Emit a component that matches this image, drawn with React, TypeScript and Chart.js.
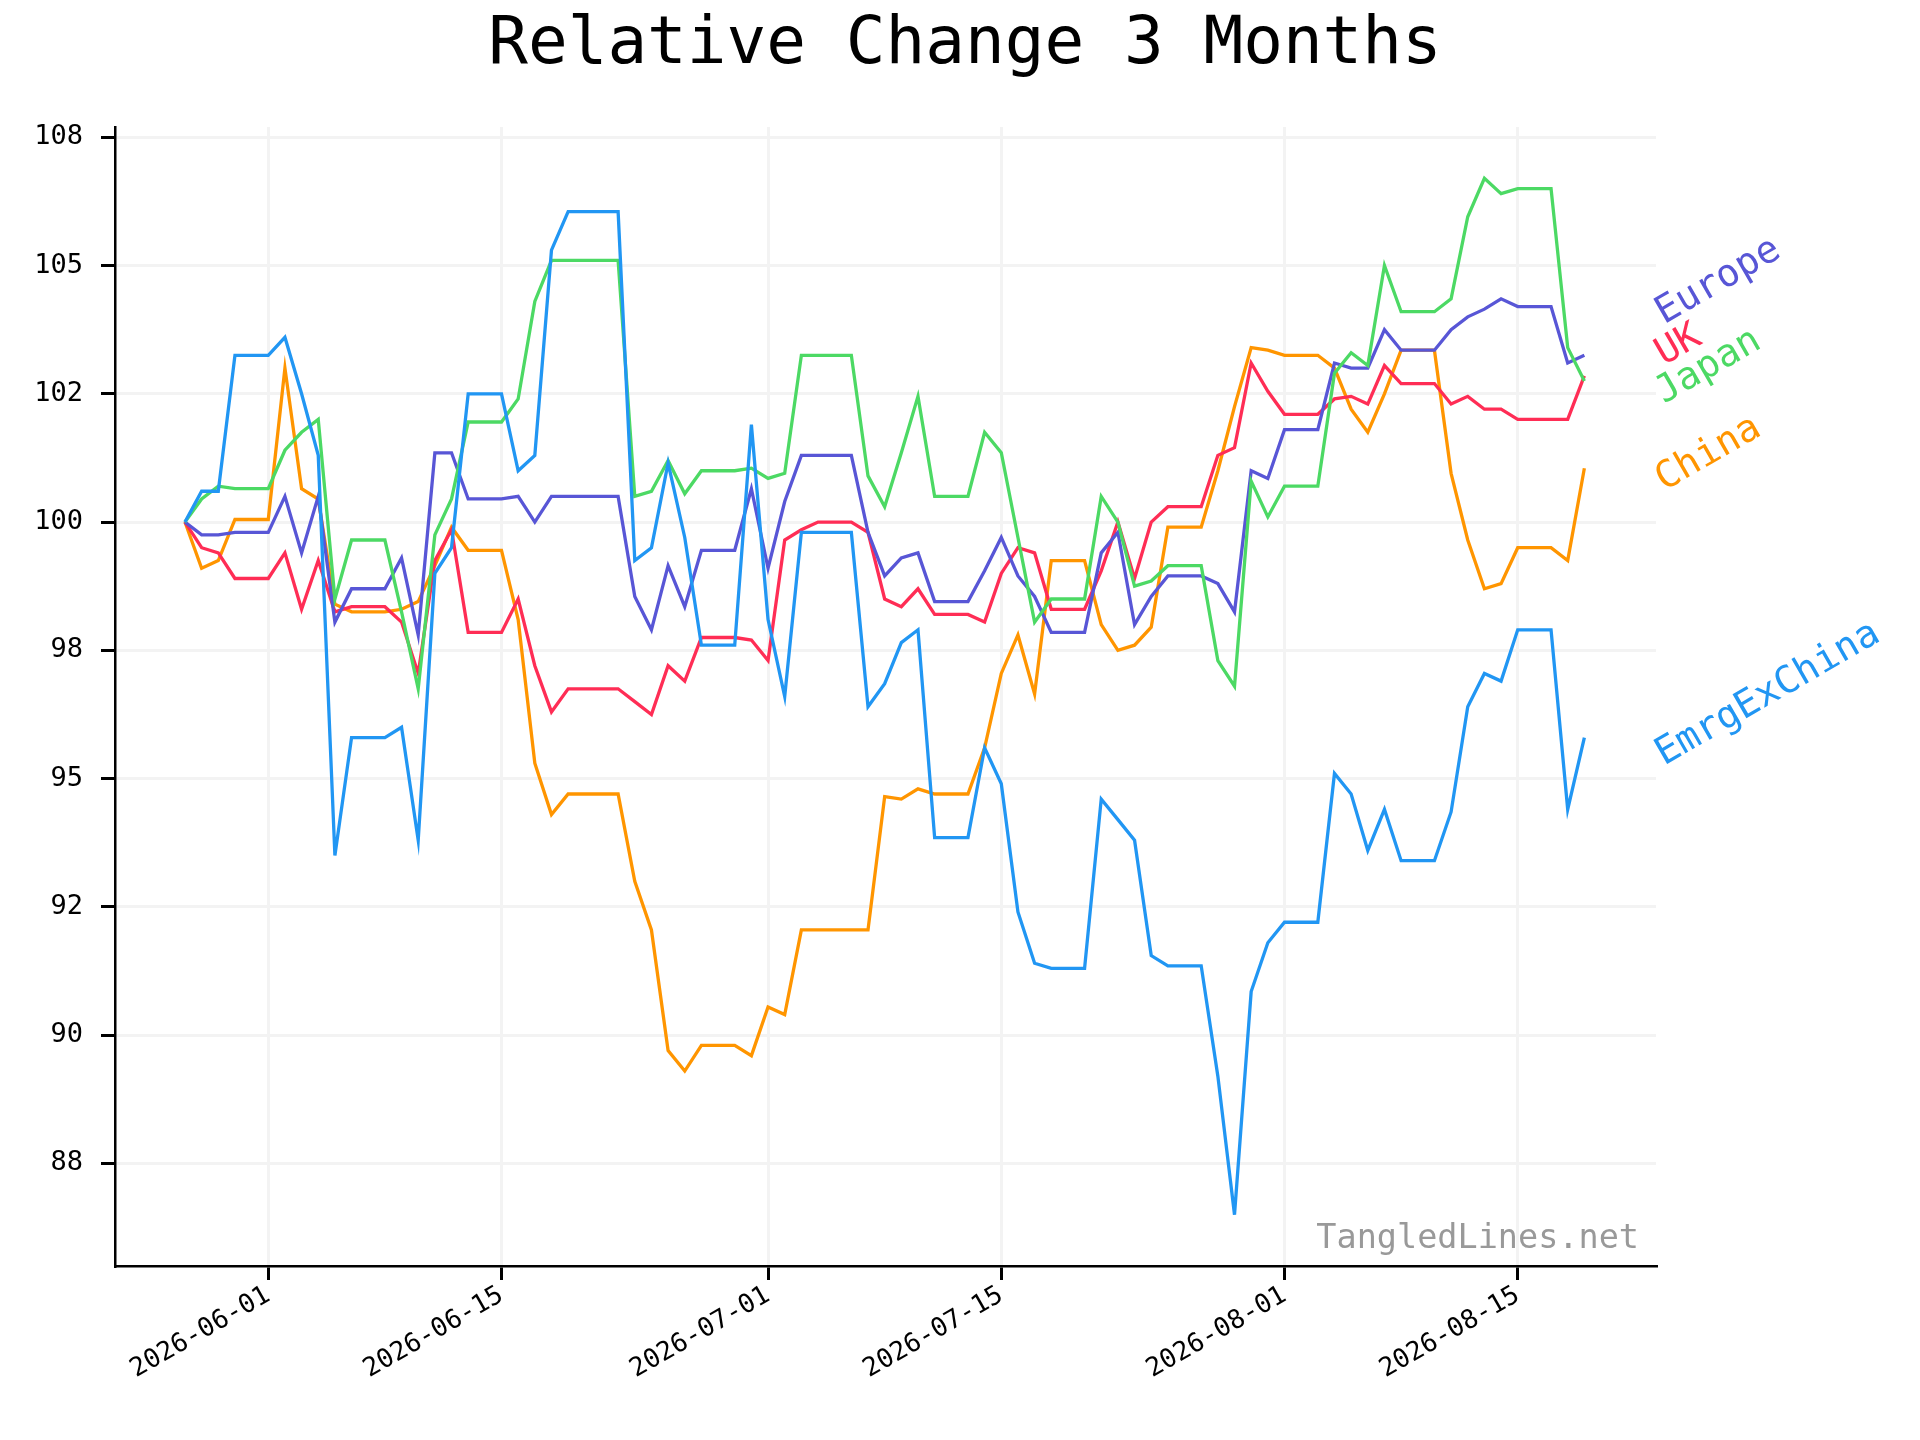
import React, { useEffect, useRef } from "react";
import { Chart, registerables } from "chart.js";
Chart.register(...registerables);

const startDate = Date.UTC(2026, 4, 27);
const tickDates = ["2026-06-01", "2026-06-15", "2026-07-01", "2026-07-15", "2026-08-01", "2026-08-15"];
const yTicks = [87.5, 90, 92.5, 95, 97.5, 100, 102.5, 105, 107.5];

const seriesNames = ["EmrgExChina", "Japan", "Europe", "UK", "China"];
const seriesColors = ["#2196F3", "#4CD964", "#5856D6", "#FF2D55", "#FF9500"];
const labelValues = [95.25, 102.3, 103.85, 103.05, 100.6];

const emrgExChina = [100,100.6,100.6,103.25,103.25,103.25,103.6,102.5,101.3,93.5,95.8,95.8,95.8,96.0,93.8,99.0,99.5,102.5,102.5,102.5,101.0,101.3,105.3,106.05,106.05,106.05,106.05,99.25,99.5,101.15,99.7,97.6,97.6,97.6,101.9,98.1,96.6,99.8,99.8,99.8,99.8,96.4,96.85,97.65,97.9,93.85,93.85,93.85,95.6,94.9,92.4,91.4,91.3,91.3,91.3,94.6,94.2,93.8,91.55,91.35,91.35,91.35,89.2,86.5,90.85,91.8,92.2,92.2,92.2,95.1,94.7,93.6,94.4,93.4,93.4,93.4,94.35,96.4,97.05,96.9,97.9,97.9,97.9,94.4,95.8];
const japan = [100,100.45,100.7,100.65,100.65,100.65,101.4,101.75,102.0,98.5,99.65,99.65,99.65,98.25,96.75,99.75,100.45,101.95,101.95,101.95,102.4,104.3,105.1,105.1,105.1,105.1,105.1,100.5,100.6,101.2,100.55,101.0,101.0,101.0,101.05,100.85,100.95,103.25,103.25,103.25,103.25,100.9,100.3,101.35,102.45,100.5,100.5,100.5,101.75,101.35,99.7,98.05,98.5,98.5,98.5,100.5,100.0,98.75,98.85,99.15,99.15,99.15,97.3,96.8,100.8,100.1,100.7,100.7,100.7,102.9,103.3,103.05,105.0,104.1,104.1,104.1,104.35,105.95,106.7,106.4,106.5,106.5,106.5,103.4,102.75];
const europe = [100,99.75,99.75,99.8,99.8,99.8,100.5,99.4,100.5,98.05,98.7,98.7,98.7,99.3,97.8,101.35,101.35,100.45,100.45,100.45,100.5,100.0,100.5,100.5,100.5,100.5,100.5,98.55,97.9,99.15,98.35,99.45,99.45,99.45,100.65,99.1,100.4,101.3,101.3,101.3,101.3,99.8,98.95,99.3,99.4,98.45,98.45,98.45,99.05,99.7,98.95,98.55,97.85,97.85,97.85,99.4,99.8,98.0,98.55,98.95,98.95,98.95,98.8,98.25,101.0,100.85,101.8,101.8,101.8,103.1,103.0,103.0,103.75,103.35,103.35,103.35,103.75,104.0,104.15,104.35,104.2,104.2,104.2,103.1,103.25];
const uk = [100,99.5,99.4,98.9,98.9,98.9,99.4,98.3,99.25,98.25,98.35,98.35,98.35,98.05,97.05,99.25,99.85,97.85,97.85,97.85,98.5,97.2,96.3,96.75,96.75,96.75,96.75,96.5,96.25,97.2,96.9,97.75,97.75,97.75,97.7,97.3,99.65,99.85,100,100,100,99.8,98.5,98.35,98.7,98.2,98.2,98.2,98.05,99.0,99.5,99.4,98.3,98.3,98.3,99.05,100.0,98.9,100.0,100.3,100.3,100.3,101.3,101.45,103.1,102.55,102.1,102.1,102.1,102.4,102.45,102.3,103.05,102.7,102.7,102.7,102.3,102.45,102.2,102.2,102.0,102.0,102.0,102.0,102.85];
const china = [100,99.1,99.25,100.05,100.05,100.05,103.0,100.65,100.45,98.4,98.25,98.25,98.25,98.3,98.45,99.15,99.9,99.45,99.45,99.45,98.1,95.3,94.3,94.7,94.7,94.7,94.7,93.0,92.05,89.7,89.3,89.8,89.8,89.8,89.6,90.55,90.4,92.05,92.05,92.05,92.05,92.05,94.65,94.6,94.8,94.7,94.7,94.7,95.6,97.05,97.8,96.65,99.25,99.25,99.25,98.0,97.5,97.6,97.95,99.9,99.9,99.9,101.0,102.25,103.4,103.35,103.25,103.25,103.25,103.0,102.2,101.75,102.5,103.35,103.35,103.35,100.95,99.65,98.7,98.8,99.5,99.5,99.5,99.25,101.05];

const seriesValues = [emrgExChina, japan, europe, uk, china];
const FONT = "'DejaVu Sans Mono', monospace";

function dayIndex(d: string) {
  const [y, m, dd] = d.split("-").map(Number);
  return (Date.UTC(y, m - 1, dd) - startDate) / 86400000;
}
function roundHalfEven(v: number) {
  const f = Math.floor(v);
  const diff = v - f;
  if (Math.abs(diff - 0.5) < 1e-9) return f % 2 === 0 ? f : f + 1;
  return Math.round(v);
}

export default function App() {
  const ref = useRef<HTMLCanvasElement>(null);
  useEffect(() => {
    const datasets = seriesNames.map((n, k) => ({
      label: n,
      data: seriesValues[k].map((v, i) => ({ x: i, y: v })),
      borderColor: seriesColors[k],
      borderWidth: 3.3,
      pointRadius: 0,
      fill: false,
      tension: 0,
    }));
    const textPlugin = {
      id: "texts",
      afterDraw(chart: any) {
        const ctx = chart.ctx;
        const ys = chart.scales.y;
        const area = chart.chartArea;
        ctx.save();
        ctx.fillStyle = "#000";
        ctx.font = `66px ${FONT}`;
        ctx.textAlign = "center";
        ctx.textBaseline = "middle";
        ctx.fillText("Relative Change 3 Months", 965, 46);
        ctx.font = `33.5px ${FONT}`;
        ctx.fillStyle = "#999";
        ctx.textAlign = "right";
        ctx.textBaseline = "alphabetic";
        ctx.fillText("TangledLines.net", area.right - 17, area.bottom - 18);
        ctx.font = `38px ${FONT}`;
        ctx.textAlign = "left";
        seriesNames.forEach((n, k) => {
          ctx.save();
          ctx.translate(area.right + 8, ys.getPixelForValue(labelValues[k]));
          ctx.rotate(-Math.PI / 6);
          ctx.fillStyle = seriesColors[k];
          ctx.fillText(n, 0, 0);
          ctx.restore();
        });
        ctx.restore();
      },
    };
    const chart = new Chart(ref.current!, {
      type: "line",
      data: { datasets },
      options: {
        animation: false,
        responsive: false,
        layout: { padding: { top: 127, right: 264, left: 0, bottom: 0 } },
        plugins: { legend: { display: false }, tooltip: { enabled: false }, title: { display: false } },
        scales: {
          x: {
            type: "linear",
            min: -4.2,
            max: 88.3,
            afterFit: (s: any) => { s.height = 174; },
            afterBuildTicks: (s: any) => { s.ticks = tickDates.map((d) => ({ value: dayIndex(d) })); },
            ticks: {
              autoSkip: false,
              minRotation: 30,
              maxRotation: 30,
              padding: 0,
              color: "#000",
              font: { family: FONT, size: 26 },
              callback: (v: any) => tickDates.find((d) => dayIndex(d) === v) || "",
            },
            grid: { color: "#f3f3f3", lineWidth: 3, tickColor: "#000", tickLength: 14, tickWidth: 3 },
            border: { color: "#000", width: 2.5 },
          },
          y: {
            min: 85.5,
            max: 107.7,
            afterFit: (s: any) => { s.width = 115; },
            afterBuildTicks: (s: any) => { s.ticks = yTicks.map((v) => ({ value: v })); },
            ticks: {
              padding: 18,
              color: "#000",
              font: { family: FONT, size: 27 },
              callback: (v: any) => String(roundHalfEven(Number(v))),
            },
            grid: { color: "#f3f3f3", lineWidth: 3, tickColor: "#000", tickLength: 14, tickWidth: 3 },
            border: { color: "#000", width: 2.5 },
          },
        },
      },
      plugins: [textPlugin],
    });
    return () => chart.destroy();
  }, []);
  return (
    <div style={{ position: "fixed", left: 0, top: 0, width: 1920, height: 1440, background: "#fff" }}>
      <canvas ref={ref} width={1920} height={1440} style={{ width: 1920, height: 1440 }} />
    </div>
  );
}
